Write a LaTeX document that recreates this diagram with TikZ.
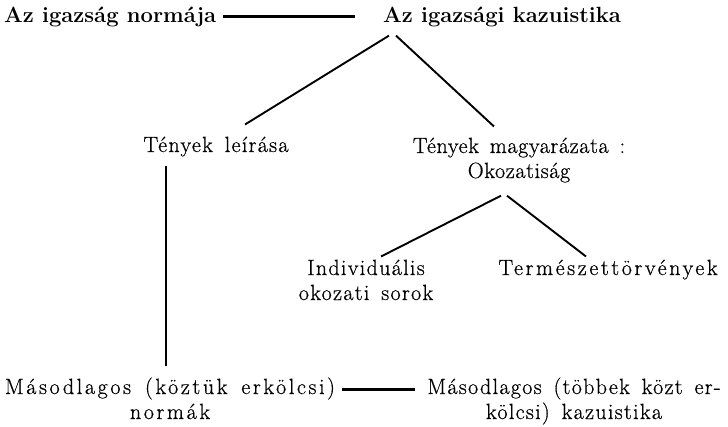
\documentclass[tikz,border=0pt]{standalone}
\usepackage{fontspec}
\newfontfamily\spcfont{Latin Modern Roman}[LetterSpace=6, WordSpace=1.5, FakeBold=0.6]
\newfontfamily\spcnarrow{Latin Modern Roman}[LetterSpace=3, WordSpace=1.5, FakeBold=0.6]
\newfontfamily\spcwide{Latin Modern Roman}[LetterSpace=12, WordSpace=1.5, FakeBold=0.6]
\begin{document}
\begin{tikzpicture}[x=1pt,y=-1pt,
  lbl/.style={inner sep=0pt, font=\spcfont\fontsize{22}{25}\selectfont, align=center},
  lbln/.style={lbl, font=\spcnarrow\fontsize{22}{25}\selectfont},
  lblw/.style={lbl, font=\spcwide\fontsize{22}{25}\selectfont},
  lblb/.style={inner sep=0pt, font=\fontsize{22}{25}\selectfont\bfseries, align=center},
  con/.style={line width=1.9pt},
  heavy/.style={line width=3.8pt},
  vert/.style={line width=2.8pt}]
\useasboundingbox (0,0) rectangle (728,426);
\node[lblb, anchor=base west] (n1) at (4,22) {Az igazság normája};
\node[lblb, anchor=base west] (n2) at (383,22) {Az igazsági kazuistika};
\node[lbl, anchor=base] (n3) at (216,152) {Tények leírása};
\node[lbln, anchor=base] (n4) at (519,178) {Tények magyarázata :\\Okozatiság};
\node[lbl, anchor=base] (n5) at (366,300) {Individuális\\okozati sorok};
\node[lblw, anchor=base] (n6) at (608,275) {Természettörvények};
\node[lblw, anchor=base] (n7) at (170,419) {Másodlagos (köztük erkölcsi)\\normák};
\node[lbl, anchor=base] (n8) at (574,419) {Másodlagos (többek közt er-\\kölcsi) kazuistika};
% connectors
\draw[heavy, shorten <=7pt, shorten >=28pt] (n1.east) -- (n1.east -| n2.west);
\draw[con] ([xshift=6pt,yshift=-9pt]n2.south west) -- ([xshift=29pt,yshift=12pt]n3.north);
\draw[con] ([xshift=13pt,yshift=-9pt]n2.south west) -- ([xshift=-25pt,yshift=11pt]n4.north);
\draw[vert] ([xshift=-50pt,yshift=-9pt]n3.south) -- ([xshift=-4pt,yshift=11.6pt]n7.north);
\draw[con] ([xshift=-18pt,yshift=-13pt]n4.south) -- ([xshift=15pt,yshift=3pt]n5.north);
\draw[con] ([xshift=-12pt,yshift=-13pt]n4.south) -- ([xshift=-22pt,yshift=3pt]n6.north);
\draw[vert] ([xshift=172pt,yshift=-12.4pt]n7.north) -- ([xshift=-159pt,yshift=-12.4pt]n8.north);
\end{tikzpicture}
\end{document}
